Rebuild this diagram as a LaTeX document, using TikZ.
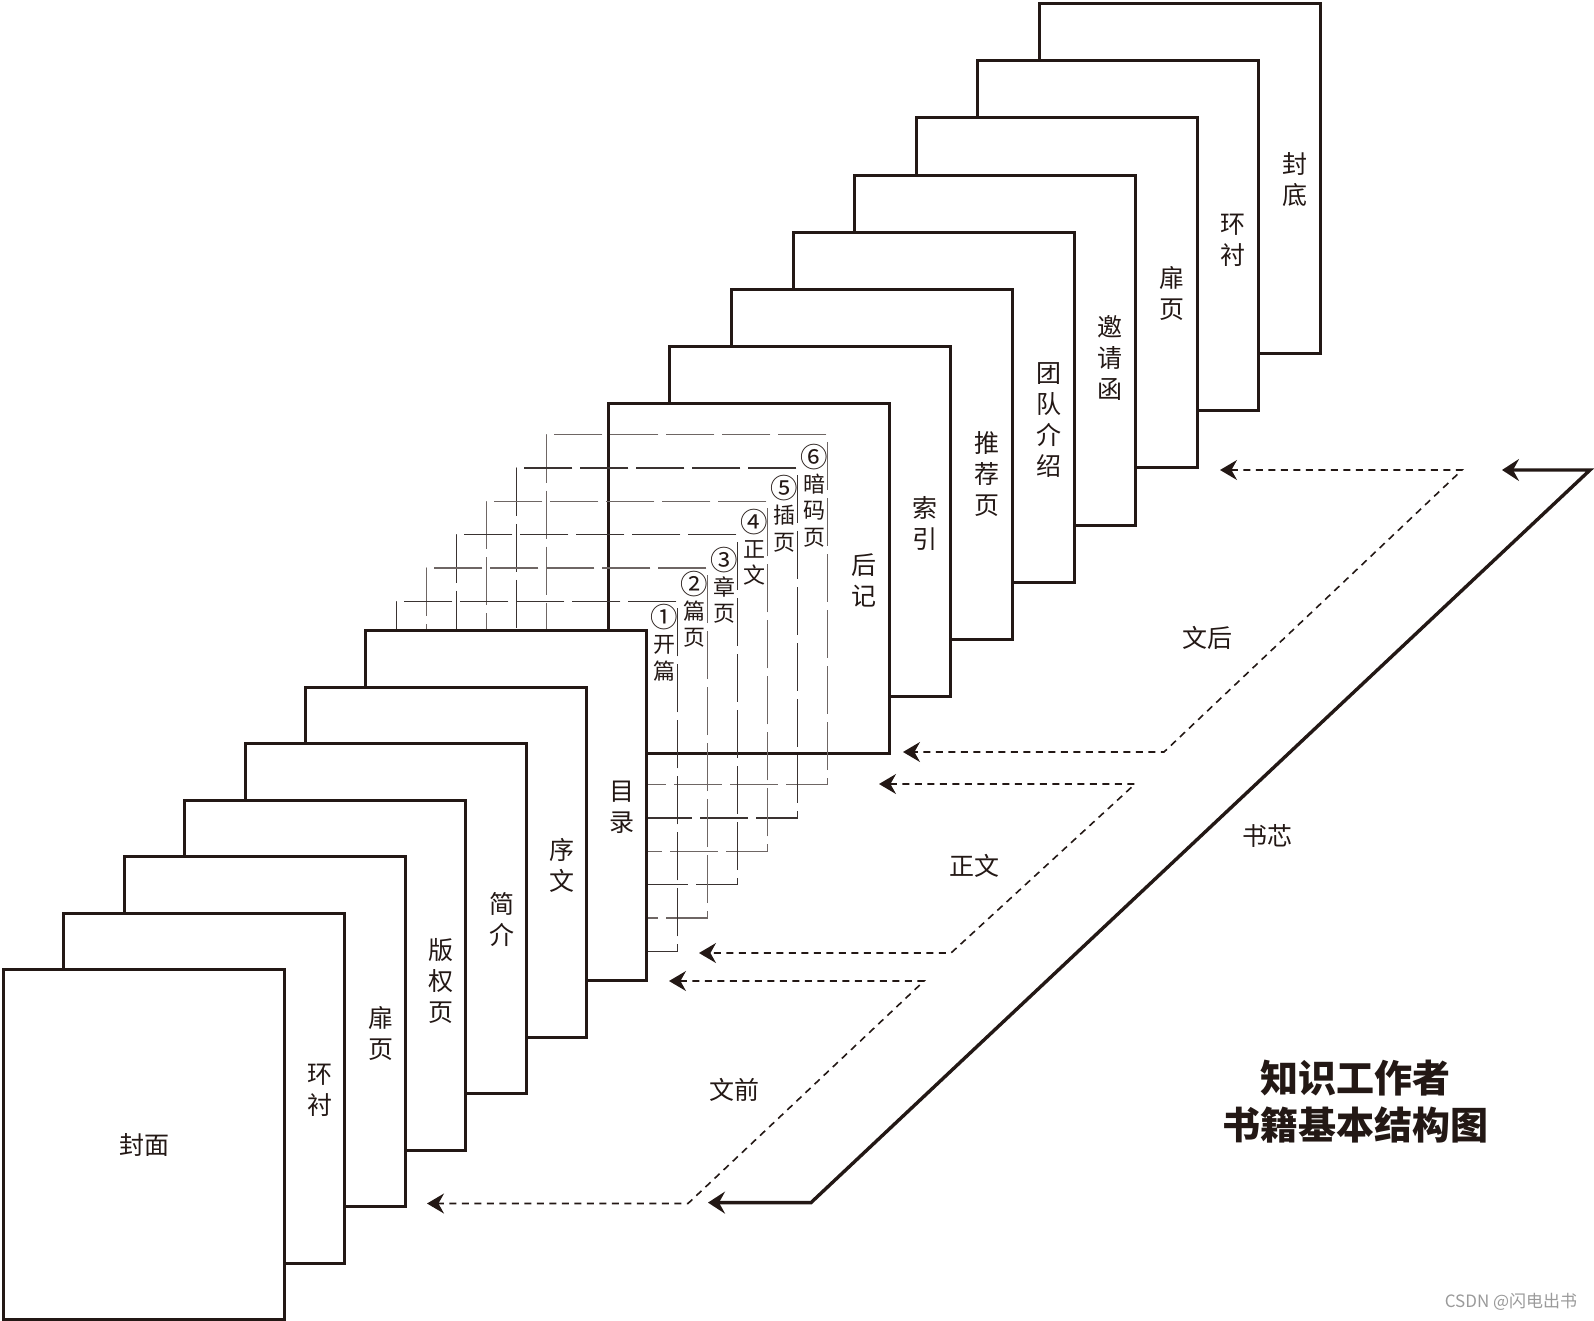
\documentclass[tikz,border=0pt]{standalone}
\usepackage{fontspec}
\usepackage{graphicx}
\setmainfont{Noto Sans CJK SC}
\usetikzlibrary{arrows.meta,calc}
\definecolor{ink}{HTML}{231815}
\definecolor{dline}{HTML}{3A3331}
\definecolor{lline}{HTML}{6E6664}
\definecolor{wmark}{HTML}{9A9A9A}
\newcommand{\cnum}[1]{\raisebox{-0.08em}{\scalebox{1.25}{#1}}}

\begin{document}
\begin{tikzpicture}[x=0.5pt, y=-0.5pt,
    page/.style={draw=ink, fill=white, line width=1.5pt, minimum width=140.5pt,
        minimum height=175pt, inner sep=0pt, anchor=north west},
    ghost/.style={draw=#1, line width=0.7pt, dash pattern=on 24pt off 4pt, dash phase=20pt,
        minimum width=140.5pt, minimum height=175pt, inner sep=0pt, anchor=north west},
    lbl/.style={text=ink, font=\fontsize{12.5}{15.5}\selectfont, align=center, inner sep=0pt},
    slbl/.style={text=ink, font=\fontsize{11}{13.25}\selectfont, align=center, inner sep=0pt},
    dasharrow/.style={draw=ink, line width=0.8pt, dash pattern=on 3.5pt off 2.75pt,
        {Stealth[length=8.5pt,width=10pt,inset=2.8pt]}-{Stealth[length=8.5pt,width=10pt,inset=2.8pt]}},
    corearrow/.style={draw=ink, line width=1.7pt,
        {Stealth[length=8.5pt,width=11pt,inset=3pt]}-{Stealth[length=8.5pt,width=11pt,inset=3pt]}}]
    \useasboundingbox (0,0) rectangle (1594,1321);

    % Back matter (back to front)
    \foreach \i/\txt/\dy in {7/{封\\底}/1, 6/{环\\衬}/4, 5/{扉\\页}/1, 4/{邀\\请\\函}/8,
                             3/{团\\队\\介\\绍}/13, 2/{推\\荐\\页}/10, 1/{索\\引}/2, 0/{后\\记}/2} {
        \node[page] (r\i) at ({606.7+61.6*\i},{401.8-57.07*\i}) {};
        \node[lbl] (rl\i) at ($(r\i.east)+(-27,\dy)$) {\txt};
    }

    % Main text pages (dashed)
    \foreach \j/\col/\txt/\dy in {6/lline/{\cnum{⑥}\\暗\\码\\页}/62, 5/dline/{\cnum{⑤}\\插\\页}/46.5,
                                  4/lline/{\cnum{④}\\正\\文}/46.5, 3/dline/{\cnum{③}\\章\\页}/51.5,
                                  2/lline/{\cnum{②}\\篇\\页}/42, 1/dline/{\cnum{①}\\开\\篇}/42} {
        \node[ghost=\col] (d\j) at ({395.7+30*(\j-1)},{600.7-33.36*(\j-1)}) {};
        \node[slbl] (dl\j) at ($(d\j.north east)+(-14,\dy)$) {\txt};
    }

    % Front matter (back to front)
    \foreach \i/\txt/\dy in {6/{目\\录}/2, 5/{序\\文}/3, 4/{简\\介}/1,
                             3/{版\\权\\页}/6, 2/{扉\\页}/2, 1/{环\\衬}/2} {
        \node[page] (f\i) at ({2+60.4*\i},{968-56.5*\i}) {};
        \node[lbl] (fl\i) at ($(f\i.east)+(-26,\dy)$) {\txt};
    }
    \node[page] (f0) at (2,968) {};
    \node[lbl] (fl0) at (f0.center) {封面};

    % Arrow ends
    \coordinate (wh1) at (1220,470);
    \coordinate (wh2) at (1462,470);
    \coordinate (wh3) at (1164,752);
    \coordinate (wh4) at (903,752);
    \coordinate (zw1) at (879,784);
    \coordinate (zw2) at (1135,784);
    \coordinate (zw3) at (951,953);
    \coordinate (zw4) at (699,953);
    \coordinate (wq1) at (669,981);
    \coordinate (wq2) at (924,981);
    \coordinate (wq3) at (688,1203.5);
    \coordinate (wq4) at (427,1203.5);
    \coordinate (sx1) at (1502,470);
    \coordinate (sx2) at (1590,470);
    \coordinate (sx3) at (811,1202.6);
    \coordinate (sx4) at (708,1202.6);

    % Groups
    \draw[dasharrow] (wh1) -- (wh2) -- (wh3) -- (wh4);
    \draw[dasharrow] (zw1) -- (zw2) -- (zw3) -- (zw4);
    \draw[dasharrow] (wq1) -- (wq2) -- (wq3) -- (wq4);
    \draw[corearrow] (sx1) -- (sx2) -- (sx3) -- (sx4);

    \node[lbl] (lwh) at (1207,637.5) {文后};
    \node[lbl] (lzw) at (974,866) {正文};
    \node[lbl] (lwq) at (734,1090) {文前};
    \node[lbl] (lsx) at (1267,836) {书芯};

    % Title
    \node[text=ink, font=\fontsize{19}{23.5}\selectfont\bfseries, align=center, inner sep=0pt]
        (title) at (1355,1101.5) {知识工作者\\书籍基本结构图};
    \node[text=wmark, font=\fontsize{8.5}{10}\selectfont, inner sep=0pt] (wm) at (1511,1302) {CSDN @闪电出书};
\end{tikzpicture}
\end{document}
